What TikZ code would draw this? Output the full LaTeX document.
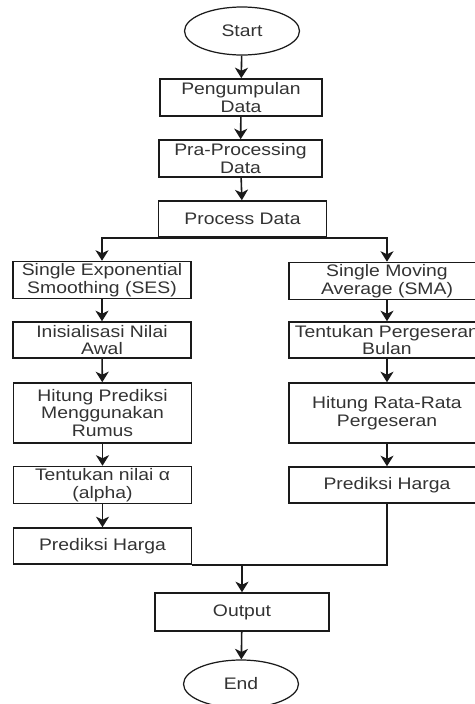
\documentclass[tikz,border=0pt]{standalone}
\usepackage{fontspec}
\setmainfont{Liberation Sans}[FakeStretch=1.16]
\usepackage{tikz}
\usetikzlibrary{
  arrows.meta,
  shapes.geometric,
  positioning,
  calc
}
\definecolor{fcLine}{HTML}{1A1A1A}
\definecolor{fcText}{HTML}{333333}
\tikzset{
  fcnode/.style={
    draw=fcLine, line width=0.9pt, align=center, text=fcText,
    font=\fontsize{9.5}{10.2}\selectfont, inner xsep=2pt, inner ysep=1pt
  },
  fcbox/.style={fcnode, rectangle, minimum height=0.72cm},
  lbox/.style={fcbox, minimum width=3.56cm},
  rbox/.style={fcbox, minimum width=3.92cm},
  fcterm/.style={fcnode, ellipse, line width=0.7pt, minimum width=2.3cm, minimum height=0.96cm},
  fcflow/.style={-{Stealth[length=2.1mm, width=2.6mm, inset=0.6mm]}, line width=0.9pt, fcLine},
  fcline/.style={line width=0.9pt, fcLine}
}
\begin{document}
\begin{tikzpicture}[x=0.02cm, y=-0.02cm]
  \useasboundingbox (0,0) rectangle (475,704);
  % main trunk
  \node[fcterm] (start) at (242,31) {Start};
  \node[fcbox, minimum width=3.24cm, minimum height=0.74cm] (collect) at (241,97.5) {Pengumpulan\\Data};
  \node[fcbox, minimum width=3.26cm, minimum height=0.74cm] (prep) at (240.5,158.5) {Pra-Processing\\Data};
  \node[fcbox, minimum width=3.36cm] (proc) at (242.5,219) {Process Data};
  % SES branch
  \node[lbox] (ses) at (102,280) {Single Exponential\\Smoothing (SES)};
  \node[lbox] (init) at (102,340) {Inisialisasi Nilai\\Awal};
  \node[lbox, minimum height=1.2cm] (calc) at (102.5,413) {Hitung Prediksi\\Menggunakan\\Rumus};
  \node[lbox] (alpha) at (102.5,485) {Tentukan nilai α\\(alpha)};
  \node[lbox] (predL) at (102.5,546) {Prediksi Harga};
  % SMA branch
  \node[rbox, minimum height=0.68cm] (sma) at (387,281) {Single Moving\\Average (SMA)};
  \node[rbox] (shift) at (387,340) {Tentukan Pergeseran\\Bulan};
  \node[rbox, minimum height=1.2cm] (avg) at (387,413) {Hitung Rata-Rata\\Pergeseran};
  \node[rbox] (predR) at (387,485) {Prediksi Harga};
  % end
  \node[fcbox, minimum width=3.48cm, minimum height=0.76cm] (out) at (242,612) {Output};
  \node[fcterm] (end) at (241,684) {End};

  \draw[fcflow] (start) -- (collect);
  \draw[fcflow] (collect) -- (prep);
  \draw[fcflow] (prep) -- (proc);
  \draw[fcflow] (proc.south) -| (ses.north);
  \draw[fcflow] (proc.south) -| (sma.north);
  \draw[fcflow] (ses) -- (init);
  \draw[fcflow] (init) -- (calc);
  \draw[fcflow] (calc) -- (alpha);
  \draw[fcflow] (alpha) -- (predL);
  \draw[fcflow] (sma) -- (shift);
  \draw[fcflow] (shift) -- (avg);
  \draw[fcflow] (avg) -- (predR);
  \draw[fcline] (predR.south) |- (predL.south east);
  \coordinate (join) at (predL.south east -| out.north);
  \draw[fcflow] (join) -- (out.north);
  \draw[fcflow] (out) -- (end);
\end{tikzpicture}
\end{document}
